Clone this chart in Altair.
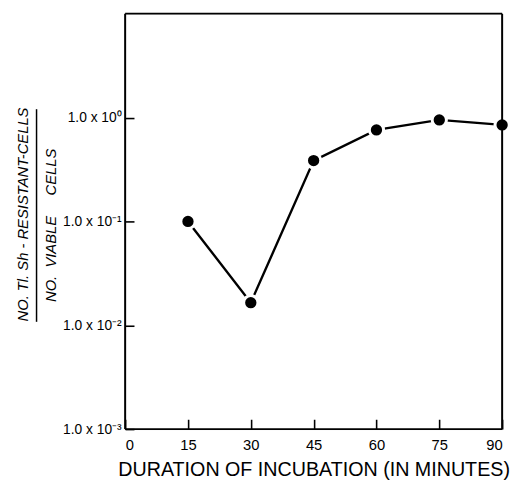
import altair as alt
import pandas as pd

# data
minutes = [15, 30, 45, 60, 75, 90]
ratio = [0.1, 0.0165, 0.385, 0.76, 0.95, 0.85]

x_ticks = [0, 15, 30, 45, 60, 75, 90]
y_ticks = [0.001, 0.01, 0.1, 1.0]
y_tick_labels = ["1.0 x 10\u207b\u00b3", "1.0 x 10\u207b\u00b2", "1.0 x 10\u207b\u00b9", "1.0 x 10\u2070"]
x_domain = [0, 90]
y_domain = [0.001, 10]

x_title = "DURATION OF INCUBATION (IN MINUTES)"
y_title_top = "NO. Tl. Sh - RESISTANT-CELLS"
y_title_bottom = "NO.\u00a0\u00a0VIABLE\u00a0\u00a0\u00a0\u00a0\u00a0CELLS"

FONT = "Liberation Sans"
W, H = 383, 422

df = pd.DataFrame({"minutes": minutes, "ratio": ratio})
fx = pd.DataFrame({"minutes": x_domain})
fy = pd.DataFrame({"ratio": y_domain})

label_expr = ""
for v, l in zip(y_ticks, y_tick_labels):
    label_expr += f"abs(datum.value - {v}) < {v * 0.01} ? '{l}' : "
label_expr += "''"

xscale = alt.Scale(domain=x_domain, nice=False, zero=False)
yscale = alt.Scale(type="log", domain=y_domain, nice=False)

# axes shifted inward so that their ticks point into the plot
xenc = alt.X("minutes:Q", scale=xscale,
             axis=alt.Axis(values=x_ticks, title=x_title, grid=False, domain=False,
                           ticks=True, tickSize=10, tickWidth=1.6, tickColor="black", offset=-10,
                           labelFontSize=15, labelPadding=9, labelFont=FONT, labelColor="black",
                           titleFont=FONT, titleFontSize=20, titleFontWeight="normal",
                           titleColor="black", titlePadding=7))
yenc = alt.Y("ratio:Q", scale=yscale,
             axis=alt.Axis(values=y_ticks, labelExpr=label_expr, title=None, grid=False,
                           domain=False, ticks=True, tickSize=9, tickWidth=1.6,
                           tickColor="black", offset=-9,
                           labelFontSize=14, labelPadding=4,
                           labelFont=FONT, labelColor="black"))

line = alt.Chart(df).mark_line(color="black", strokeWidth=2.4).encode(x=xenc, y=yenc)
pts = alt.Chart(df).mark_point(filled=True, shape="circle", size=210, color="black",
                               stroke="white", strokeWidth=3, opacity=1).encode(
    x="minutes:Q", y="ratio:Q")

frame_v = alt.Chart(fx).mark_rule(color="black", strokeWidth=2).encode(
    x="minutes:Q", y=alt.value(0), y2=alt.value(H))
frame_h = alt.Chart(fy).mark_rule(color="black", strokeWidth=1.8).encode(
    y="ratio:Q", x=alt.value(0), x2=alt.value(W))

t1 = alt.Chart(pd.DataFrame({"s": [y_title_top]})).mark_text(
    angle=270, font=FONT, fontSize=15, fontStyle="italic", color="black",
    align="center", baseline="middle").encode(
    text="s:N", x=alt.value(-104), y=alt.value(204))
t2 = alt.Chart(pd.DataFrame({"s": [y_title_bottom]})).mark_text(
    angle=270, font=FONT, fontSize=15, fontStyle="italic", color="black",
    align="center", baseline="middle").encode(
    text="s:N", x=alt.value(-75), y=alt.value(215))
bar = alt.Chart(pd.DataFrame({"a": [0]})).mark_rule(color="black", strokeWidth=1.5).encode(
    x=alt.value(-90), y=alt.value(97), y2=alt.value(313))

chart = alt.layer(line, pts, frame_v, frame_h, t1, t2, bar).properties(
    width=W, height=H,
    autosize=alt.AutoSizeParams(type="none"),
    padding={"left": 119, "top": 2, "right": 8, "bottom": 55},
).configure_view(stroke="transparent").configure(background="white")

chart.save("out.html", embed_options={"renderer": "svg", "actions": False})
